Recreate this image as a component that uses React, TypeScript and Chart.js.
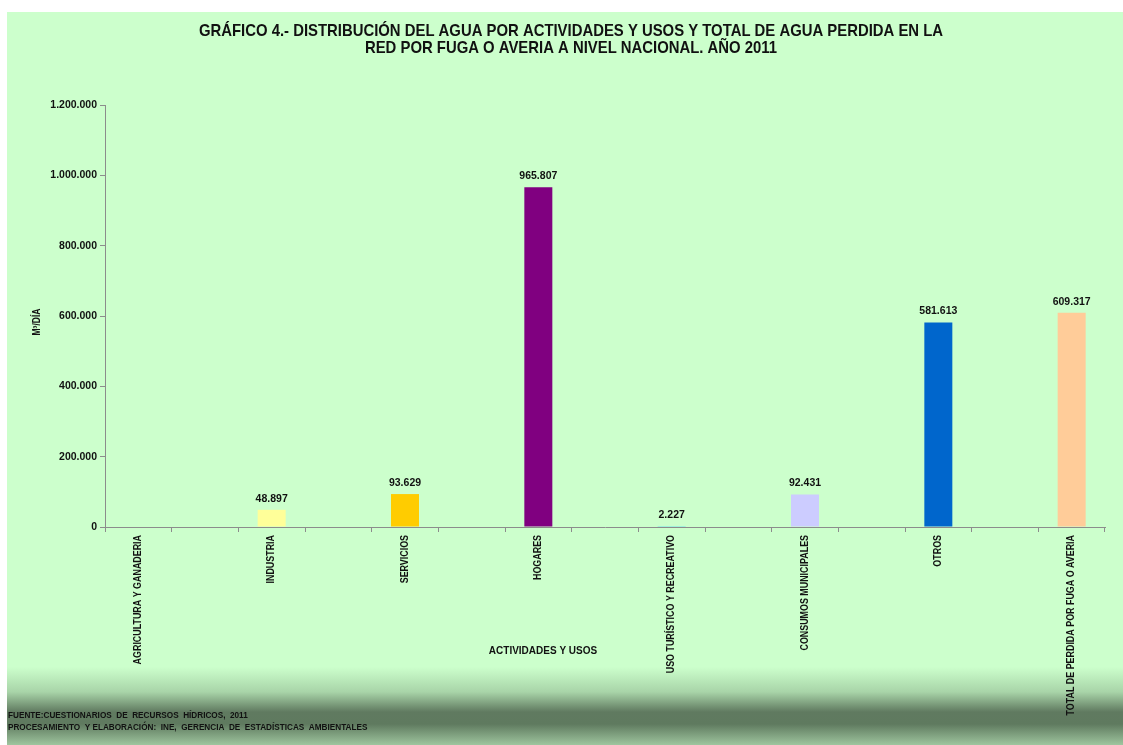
import React, { useEffect, useRef } from "react";
import { Chart, registerables } from "chart.js";

Chart.register(...registerables);

const titleLines = [
  "GRÁFICO 4.- DISTRIBUCIÓN DEL AGUA POR ACTIVIDADES Y USOS Y TOTAL DE AGUA PERDIDA EN LA",
  "RED POR FUGA O AVERIA A NIVEL NACIONAL. AÑO 2011",
];
const categories = [
  "AGRICULTURA Y GANADERIA",
  "INDUSTRIA",
  "SERVICIOS",
  "HOGARES",
  "USO TURÍSTICO Y RECREATIVO",
  "CONSUMOS MUNICIPALES",
  "OTROS",
  "TOTAL DE PERDIDA POR FUGA O AVERIA",
];
const values: (number | null)[] = [null, 48897, 93629, 965807, 2227, 92431, 581613, 609317];
const barColors = ["#FFFFFF", "#FFFF99", "#FFCC00", "#800080", "#33CCFF", "#CCCCFF", "#0066CC", "#FFCC99"];
const yTitle = "M³/DÍA";
const xTitle = "ACTIVIDADES Y USOS";
const footerLines = [
  "FUENTE:CUESTIONARIOS  DE  RECURSOS  HÍDRICOS,  2011",
  "PROCESAMIENTO  Y ELABORACIÓN:  INE,  GERENCIA  DE  ESTADÍSTICAS  AMBIENTALES",
];
const yMax = 1200000;
const yStep = 200000;

// interleave blank categories (the source chart has an empty slot between each bar)
const slotLabels: string[] = [];
const slotValues: (number | null)[] = [];
const slotColors: string[] = [];
categories.forEach((c, i) => {
  if (i > 0) {
    slotLabels.push("");
    slotValues.push(null);
    slotColors.push("transparent");
  }
  slotLabels.push(c);
  slotValues.push(values[i]);
  slotColors.push(barColors[i]);
});

const fmt = (v: number) => String(Math.round(v)).replace(/\B(?=(\d{3})+(?!\d))/g, ".");

const SANS = '"Liberation Sans", Arial, sans-serif';

export default function App() {
  const ref = useRef<HTMLCanvasElement | null>(null);
  useEffect(() => {
    if (!ref.current) return;
    const textPlugin = {
      id: "texts",
      afterDraw(chart: any) {
        const ctx = chart.ctx as CanvasRenderingContext2D;
        ctx.save();
        ctx.fillStyle = "#111";
        ctx.textAlign = "center";
        ctx.textBaseline = "middle";

        // title (condensed)
        ctx.font = `bold 17px ${SANS}`;
        titleLines.forEach((t, i) => {
          ctx.save();
          ctx.translate(571, 31 + i * 17);
          ctx.scale(0.875, 1);
          ctx.fillText(t, 0, 0);
          ctx.restore();
        });

        // data labels
        ctx.font = `bold 10.5px ${SANS}`;
        ctx.textBaseline = "alphabetic";
        const meta = chart.getDatasetMeta(0);
        meta.data.forEach((el: any, i: number) => {
          const v = slotValues[i];
          if (v == null) return;
          ctx.fillText(fmt(v), el.x, el.y - 8);
        });

        // x category labels (rotated, condensed)
        const xs = chart.scales.x;
        ctx.font = `bold 10px ${SANS}`;
        ctx.textAlign = "right";
        ctx.textBaseline = "middle";
        slotLabels.forEach((lab, i) => {
          if (!lab) return;
          const x = xs.getPixelForValue(i);
          ctx.save();
          ctx.translate(x, xs.top + 8);
          ctx.rotate(-Math.PI / 2);
          ctx.scale(0.89, 1);
          ctx.fillText(lab, 0, 0);
          ctx.restore();
        });

        // y title
        ctx.textAlign = "center";
        ctx.save();
        ctx.translate(37, 322);
        ctx.rotate(-Math.PI / 2);
        ctx.scale(0.85, 1);
        ctx.font = `bold 10px ${SANS}`;
        ctx.fillText(yTitle, 0, 0);
        ctx.restore();

        // x title
        ctx.font = `bold 10px ${SANS}`;
        ctx.fillText(xTitle, 543, 651);

        // footer
        ctx.textAlign = "left";
        ctx.font = `bold 8.2px ${SANS}`;
        ctx.fillText(footerLines[0], 8, 716);
        ctx.fillText(footerLines[1], 8, 728);
        ctx.restore();
      },
    };
    const chart = new Chart(ref.current, {
      type: "bar",
      data: {
        labels: slotLabels,
        datasets: [
          {
            data: slotValues,
            backgroundColor: slotColors,
            borderWidth: 0,
            barPercentage: 0.42,
            categoryPercentage: 1,
          },
        ],
      },
      options: {
        responsive: false,
        animation: false,
        layout: { padding: { top: 105, right: 18, left: 0, bottom: 0 } },
        plugins: { legend: { display: false }, tooltip: { enabled: false }, title: { display: false } },
        scales: {
          x: {
            grid: { display: true, drawOnChartArea: false, drawTicks: true, tickLength: 5, color: "#8C8C8C", offset: true },
            border: { color: "#8C8C8C" },
            ticks: {
              autoSkip: false,
              maxRotation: 90,
              minRotation: 90,
              padding: 3,
              color: "rgba(0,0,0,0)",
              font: { family: SANS, size: 10, weight: "bold" },
            },
            afterFit: (s: any) => {
              s.height = 218;
            },
          },
          y: {
            min: 0,
            max: yMax,
            grid: { display: true, drawOnChartArea: false, drawTicks: true, tickLength: 5, color: "#8C8C8C" },
            border: { color: "#8C8C8C" },
            ticks: {
              stepSize: yStep,
              padding: 3,
              color: "#111",
              font: { family: SANS, size: 10.5, weight: "bold" },
              callback: (v: any) => fmt(Number(v)),
            },
            afterFit: (s: any) => {
              s.width = 105;
            },
          },
        },
      },
      plugins: [textPlugin],
    });
    return () => chart.destroy();
  }, []);

  return (
    <div style={{ position: "fixed", left: 0, top: 0, width: 1123, height: 745, background: "#FFFFFF", overflow: "hidden" }}>
      <div
        style={{
          position: "absolute",
          left: 7,
          top: 12,
          width: 1116,
          height: 733,
          background:
            "linear-gradient(to bottom, #CCFFCC 0px, #CCFFCC 655px, #A8D4A8 680px, #607A60 700px, #5F7A5F 712px, #8FB38F 728px, #C4F2C4 745px)",
        }}
      />
      <canvas ref={ref} width={1123} height={745} style={{ position: "absolute", left: 0, top: 0, width: 1123, height: 745 }} />
    </div>
  );
}
